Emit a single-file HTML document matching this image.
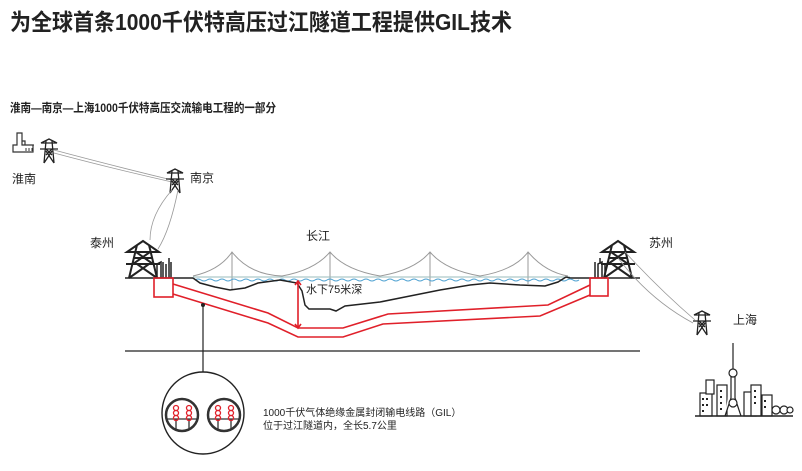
<!DOCTYPE html>
<html><head><meta charset="utf-8"><style>
html,body{margin:0;padding:0;background:#fff;}
svg{display:block;}
text{font-family:"Liberation Sans","Noto Sans CJK SC",sans-serif;fill:#222;}
</style></head><body>
<svg width="802" height="471" viewBox="0 0 802 471" xmlns="http://www.w3.org/2000/svg">
<defs>
<g id="tw">
 <path d="M-8,-12 L0,-16 L8,-12 Z M-9,-6 L9,-6 M-8,-12 L8,-12 M-3,-14 L-5,8 M3,-14 L5,8 M-5,8 L3,-4 M5,8 L-3,-4 M-3,-6 L3,0 M3,-6 L-3,0" fill="none" stroke="#222" stroke-width="1.3"/>
</g>
<g id="big">
 <path d="M-16,-26 L0,-37 L16,-26 Z M-17,-14 L17,-14 M-16,-26 L16,-26 M-6,-33 L-14,0 M6,-33 L14,0 M-14,0 L6,-14 M14,0 L-6,-14 M-10,-14 L7,-26 M10,-14 L-7,-26 M-9,-20 L9,-20" fill="none" stroke="#222" stroke-width="2"/>
</g>
</defs>

<text x="10" y="30" font-size="23" font-weight="bold" textLength="502" lengthAdjust="spacingAndGlyphs">为全球首条1000千伏特高压过江隧道工程提供GIL技术</text>
<text x="10" y="112" font-size="12" font-weight="bold" textLength="266" lengthAdjust="spacingAndGlyphs">淮南—南京—上海1000千伏特高压交流输电工程的一部分</text>

<!-- factory -->
<path d="M17,133 L17,145 L13,145 L13,152 L33,152 L33,145 L22,145 L22,133 Z M22,145 L22,141 L25,141 L25,145" fill="none" stroke="#333" stroke-width="1.2"/>
<path d="M24,145 L34,145 M26,148 L26,151 M29,148 L29,151 M32,148 L32,151" stroke="#333" stroke-width="1"/>
<use href="#tw" transform="translate(49,155)"/>
<text x="12" y="183" font-size="12">淮南</text>

<!-- lines -->
<path d="M54,150 Q110,165 172,180 M54,153 Q110,168 172,182" fill="none" stroke="#999" stroke-width="0.8"/>
<use href="#tw" transform="translate(175,185)"/>
<text x="190" y="182" font-size="12">南京</text>
<path d="M172,190 Q150,215 150,240 M178,190 Q170,230 158,249" fill="none" stroke="#999" stroke-width="0.8"/>

<text x="90" y="247" font-size="12">泰州</text>
<use href="#big" transform="translate(143,278)"/>
<path d="M157,278 L157,264 L161,262 L161,278 M163,278 L163,262 M166,278 L166,264 M169,278 L169,258 M171,278 L171,262" stroke="#222" stroke-width="1.5" fill="none"/>
<line x1="125" y1="278" x2="193" y2="278" stroke="#222" stroke-width="1.4"/>

<!-- right side -->
<use href="#big" transform="translate(618,278)"/>
<path d="M595,278 L595,262 M598,278 L598,264 L602,262 L602,278 M605,278 L605,265 M600,258 L600,264" stroke="#222" stroke-width="1.5" fill="none"/>
<line x1="570" y1="278" x2="640" y2="278" stroke="#222" stroke-width="1.4"/>
<text x="649" y="247" font-size="12">苏州</text>
<path d="M625,252 Q660,290 695,320 M618,258 Q650,300 693,323" fill="none" stroke="#999" stroke-width="0.8"/>
<use href="#tw" transform="translate(702,327)"/>
<text x="733" y="324" font-size="12">上海</text>

<!-- bridge cables -->
<g fill="none" stroke="#999" stroke-width="1">
<path d="M193,276 Q220,270 232,252 Q250,275 282,276 Q315,270 330,252 Q345,270 380,276 Q415,270 430,252 Q445,270 480,276 Q515,270 528,252 Q545,272 568,276"/>
<path d="M232,252 L232,290 M330,252 L330,286 M430,252 L430,286 M528,252 L528,284"/>
</g>
<line x1="193" y1="277" x2="570" y2="277" stroke="#9bb" stroke-width="1"/>
<path d="M195,280 q3,-2 6,0 t6,0 t6,0 t6,0 t6,0 t6,0 t6,0 t6,0 t6,0 t6,0 t6,0 t6,0 t6,0 t6,0 t6,0 t6,0 t6,0 t6,0 t6,0 t6,0 t6,0 t6,0 t6,0 t6,0 t6,0 t6,0 t6,0 t6,0 t6,0 t6,0 t6,0 t6,0 t6,0 t6,0 t6,0 t6,0 t6,0 t6,0 t6,0 t6,0 t6,0 t6,0 t6,0 t6,0 t6,0 t6,0 t6,0 t6,0 t6,0 t6,0 t6,0 t6,0 t6,0 t6,0 t6,0 t6,0 t6,0 t6,0 t6,0 t6,0 t6,0 t6,0 t6,0 t6,0" fill="none" stroke="#4a9fd0" stroke-width="0.9"/>
<!-- riverbed -->
<path d="M193,278 L200,283 L215,287 L230,290 L245,288 L258,283 L280,280 L297,283 L302,291 L305,305 L309,309 L330,309 L336,311 L345,306 L380,302 L410,296 L440,290 L470,285 L490,283 L520,285 L545,286 L558,282 L566,277 L570,278" fill="none" stroke="#222" stroke-width="1.5"/>

<text x="306" y="240" font-size="12">长江</text>
<text x="306" y="293" font-size="11">水下75米深</text>

<!-- red tunnel -->
<g fill="none" stroke="#e0202a" stroke-width="1.6">
<rect x="154" y="278" width="19" height="19"/>
<rect x="590" y="278" width="18" height="18"/>
<path d="M173,284 L268,313 L298,328 L343,328 L388,314 L548,305 L590,285"/>
<path d="M173,294 L268,323 L298,337 L343,337 L383,324 L540,316 L590,295"/>
<path d="M298,282 L298,327 M295,285 L298,281 L301,285 M295,324 L298,328 L301,324"/>
</g>

<line x1="125" y1="351" x2="640" y2="351" stroke="#222" stroke-width="1.2"/>

<!-- leader & detail -->
<circle cx="203" cy="305" r="2" fill="#222"/>
<line x1="203" y1="305" x2="203" y2="372" stroke="#222" stroke-width="1.2"/>
<circle cx="203" cy="413" r="41" fill="#fff" stroke="#222" stroke-width="1.4"/>
<g fill="none">
<circle cx="182" cy="415" r="16" stroke="#333" stroke-width="2.5"/>
<circle cx="224" cy="415" r="16" stroke="#333" stroke-width="2.5"/>
<path d="M167,419 L197,419 M176,419 L176,430 M189,419 L189,430 M209,419 L239,419 M218,419 L218,430 M231,419 L231,430" stroke="#333" stroke-width="1.3"/>
<g stroke="#e0202a" stroke-width="1.3">
<circle cx="176" cy="408" r="2.5"/><circle cx="176" cy="413" r="2.5"/><circle cx="176" cy="418" r="2.5"/>
<circle cx="189" cy="408" r="2.5"/><circle cx="189" cy="413" r="2.5"/><circle cx="189" cy="418" r="2.5"/>
<circle cx="218" cy="408" r="2.5"/><circle cx="218" cy="413" r="2.5"/><circle cx="218" cy="418" r="2.5"/>
<circle cx="231" cy="408" r="2.5"/><circle cx="231" cy="413" r="2.5"/><circle cx="231" cy="418" r="2.5"/>
</g></g>
<text x="263" y="416" font-size="10">1000千伏气体绝缘金属封闭输电线路（GIL）</text>
<text x="263" y="429" font-size="10">位于过江隧道内，全长5.7公里</text>

<!-- Shanghai skyline -->
<g stroke="#222" stroke-width="1.2" fill="#fff">
<line x1="733" y1="343" x2="733" y2="370"/>
<rect x="700" y="393" width="12" height="23"/>
<rect x="706" y="380" width="8" height="14"/>
<rect x="717" y="385" width="10" height="31"/>
<rect x="744" y="392" width="12" height="24"/>
<rect x="751" y="385" width="10" height="31"/>
<rect x="762" y="395" width="10" height="21"/>
<path d="M731,376 L731,398 L725,416 M735,376 L735,398 L741,416"/>
<circle cx="733" cy="373" r="4"/>
<circle cx="733" cy="403" r="4"/>
<circle cx="776" cy="410" r="4"/><circle cx="784" cy="410" r="4"/><circle cx="790" cy="410" r="3"/>
</g>
<g fill="#222">
<rect x="702" y="398" width="2" height="2"/><rect x="706" y="398" width="2" height="2"/><rect x="702" y="404" width="2" height="2"/><rect x="706" y="404" width="2" height="2"/><rect x="702" y="410" width="2" height="2"/>
<rect x="720" y="390" width="2" height="2"/><rect x="720" y="396" width="2" height="2"/><rect x="720" y="402" width="2" height="2"/><rect x="720" y="408" width="2" height="2"/>
<rect x="754" y="390" width="2" height="2"/><rect x="754" y="396" width="2" height="2"/><rect x="754" y="402" width="2" height="2"/><rect x="764" y="400" width="2" height="2"/><rect x="764" y="406" width="2" height="2"/>
</g>
<line x1="695" y1="416" x2="793" y2="416" stroke="#222" stroke-width="1.5"/>
</svg>
</body></html>
